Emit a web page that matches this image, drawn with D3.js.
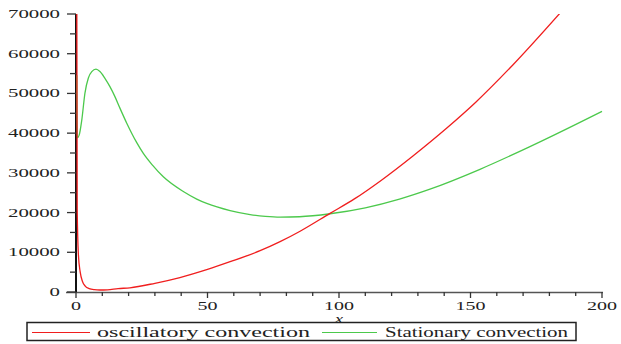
<!DOCTYPE html>
<html><head><meta charset="utf-8">
<script src="https://cdn.jsdelivr.net/npm/d3@7/dist/d3.min.js"></script>
<style>body{margin:0;background:#fff}svg{display:block}text{font-family:"Liberation Serif","Times New Roman",serif;fill:#222}</style>
</head><body><svg id="c" width="621" height="344"></svg>
<script>
// Data
const oscX = [0.3,0.45,0.9,1.6,2.5,3.5,5,7,9,12,16,20.5,30,39.5,50,58.6,70,77.6,85.2,96.6,106,116,128,141,152,166,184];
const oscY = [75000,21000,9500,5000,2600,1500,850,580,500,560,850,1050,2200,3650,5700,7630,10400,12670,15300,19800,23500,28100,34200,41300,47800,57100,70200];
const staX = [0.3,0.45,1.2,2.2,3.4,4.7,6,7.6,9.1,11,12.9,14.8,16.7,19.3,23.1,25.6,29,33.2,40.8,45.9,49.7,58.6,66.2,72,77.6,85,96.6,110,123,134.6,153.6,172.6,191.6,200];
const staY = [54600,38800,39500,43300,50100,53900,55500,56100,55500,53800,51700,49200,46300,42500,37600,34900,32000,29000,25300,23400,22300,20500,19500,19050,18850,18950,19700,21200,23400,25900,30900,36600,42700,45500];
const xTicks = [0,50,100,150,200];
const yTicks = [0,10000,20000,30000,40000,50000,60000,70000];
const seriesNames = ["oscillatory convection","Stationary convection"];
const colors = ["#f01e1e","#4cc94c"];

const svg = d3.select("#c");
const x = d3.scaleLinear().domain([0,200]).range([76,602]);
const y = d3.scaleLinear().domain([0,70000]).range([292,14]);

svg.append("defs").append("clipPath").attr("id","clip").append("rect")
  .attr("x",76).attr("y",14).attr("width",527).attr("height",278);

// Axes
const axisCol = "#333";
const gx = svg.append("g");
gx.append("line").attr("x1",66).attr("x2",603).attr("y1",292.5).attr("y2",292.5).attr("stroke","#555").attr("stroke-width",1.5);
d3.range(0,201,10).forEach(v=>{
  const major = v%50===0;
  gx.append("line").attr("x1",x(v)).attr("x2",x(v)).attr("y1",292).attr("y2",major?298:296).attr("stroke",axisCol).attr("stroke-width",1.3);
});
xTicks.forEach(v=>{
  const s=String(v);
  gx.append("text").attr("x",x(v)).attr("y",309.5).attr("text-anchor","middle")
    .attr("font-size",12).attr("textLength",s.length*10).attr("lengthAdjust","spacingAndGlyphs").text(s);
});
const gy = svg.append("g");
gy.append("line").attr("x1",76).attr("x2",76).attr("y1",14).attr("y2",292).attr("stroke","#111").attr("stroke-width",2);
d3.range(0,70001,5000).forEach(v=>{
  const major = v%10000===0;
  gy.append("line").attr("x1",major?67:70).attr("x2",76).attr("y1",y(v)).attr("y2",y(v)).attr("stroke",axisCol).attr("stroke-width",1.3);
});
yTicks.forEach(v=>{
  const s=String(v);
  gy.append("text").attr("x",60).attr("y",y(v)+4).attr("text-anchor","end")
    .attr("font-size",12).attr("textLength",s.length*10.4).attr("lengthAdjust","spacingAndGlyphs").text(s);
});

// Curves
const line = d3.line().x(d=>x(d[0])).y(d=>y(d[1])).curve(d3.curveMonotoneX);
const data = [d3.zip(oscX,oscY), d3.zip(staX,staY)];
[1,0].forEach(i=>{
  svg.append("path").attr("clip-path","url(#clip)").attr("d",line(data[i]))
    .attr("fill","none").attr("stroke",colors[i]).attr("stroke-width",1.3);
});

// Legend
const lg = svg.append("g");
lg.append("rect").attr("x",27).attr("y",322.5).attr("width",549).attr("height",18).attr("fill","#fff").attr("stroke","#222").attr("stroke-width",1.5);
const leg = [{x1:32,x2:90,tx:97,tw:213},{x1:322,x2:377,tx:385,tw:183}];
leg.forEach((l,i)=>{
  lg.append("line").attr("x1",l.x1).attr("x2",l.x2).attr("y1",332.5).attr("y2",332.5).attr("stroke",colors[i]).attr("stroke-width",1.2);
  lg.append("text").attr("x",l.tx).attr("y",337).attr("font-size",14).attr("textLength",l.tw)
    .attr("lengthAdjust","spacingAndGlyphs").text(seriesNames[i]);
});

// axis title
svg.append("text").attr("x",335).attr("y",322.5).attr("font-style","italic")
  .attr("font-size",12).attr("textLength",8).attr("lengthAdjust","spacingAndGlyphs").text("x");
</script></body></html>
